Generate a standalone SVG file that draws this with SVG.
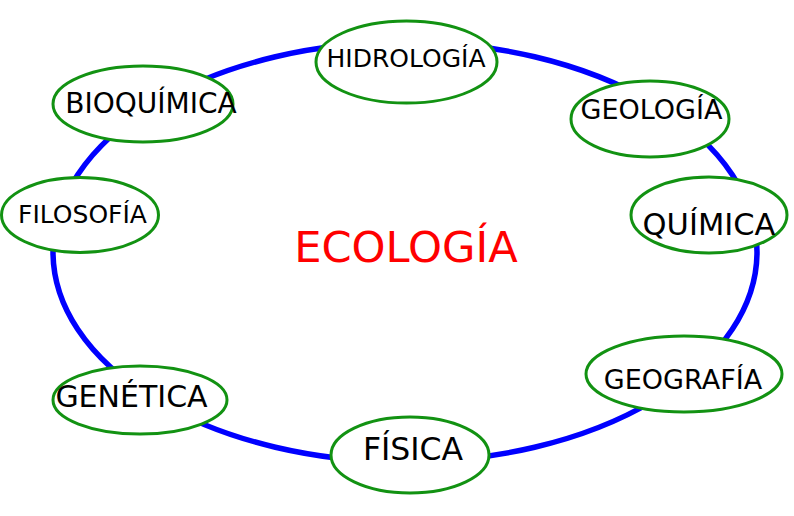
<svg xmlns="http://www.w3.org/2000/svg" width="794" height="516" viewBox="0 0 794 516">
<style>
.n ellipse{fill:#fff;stroke:#129212;stroke-width:3}
.n text{font-family:"DejaVu Sans",Verdana,sans-serif;fill:#000;text-anchor:middle}
.ring{fill:none;stroke:#0000ff;stroke-width:5.5}
</style>
<rect width="794" height="516" fill="#fff"/>
<g id="connectors">
<ellipse class="ring" cx="405" cy="252" rx="352" ry="210"/>
</g>
<g id="ecologia"><text x="406" y="262" font-family="DejaVu Sans, Verdana, sans-serif" font-size="43.2" fill="#ff0000" text-anchor="middle">ECOLOGÍA</text></g>
<g id="hidrologia" class="n"><ellipse cx="406.5" cy="62" rx="90.5" ry="41"/><text x="406" y="67" font-size="25">HIDROLOGÍA</text></g>
<g id="geologia" class="n"><ellipse cx="650" cy="119" rx="79" ry="38"/><text x="651.5" y="119" font-size="27">GEOLOGÍA</text></g>
<g id="quimica" class="n"><ellipse cx="709" cy="215" rx="78" ry="38"/><text x="709" y="235" font-size="30.5">QUÍMICA</text></g>
<g id="geografia" class="n"><ellipse cx="684" cy="374" rx="98" ry="38"/><text x="683" y="389" font-size="27">GEOGRAFÍA</text></g>
<g id="fisica" class="n"><ellipse cx="410" cy="455" rx="79" ry="38"/><text x="413" y="460" font-size="31.5">FÍSICA</text></g>
<g id="genetica" class="n"><ellipse cx="140" cy="400" rx="87" ry="34"/><text x="131.5" y="407" font-size="30">GENÉTICA</text></g>
<g id="filosofia" class="n"><ellipse cx="80" cy="215" rx="78.5" ry="37.5"/><text x="82.5" y="223" font-size="25">FILOSOFÍA</text></g>
<g id="bioquimica" class="n"><ellipse cx="143" cy="104" rx="90" ry="38"/><text x="151" y="113" font-size="28">BIOQUÍMICA</text></g>
</svg>
